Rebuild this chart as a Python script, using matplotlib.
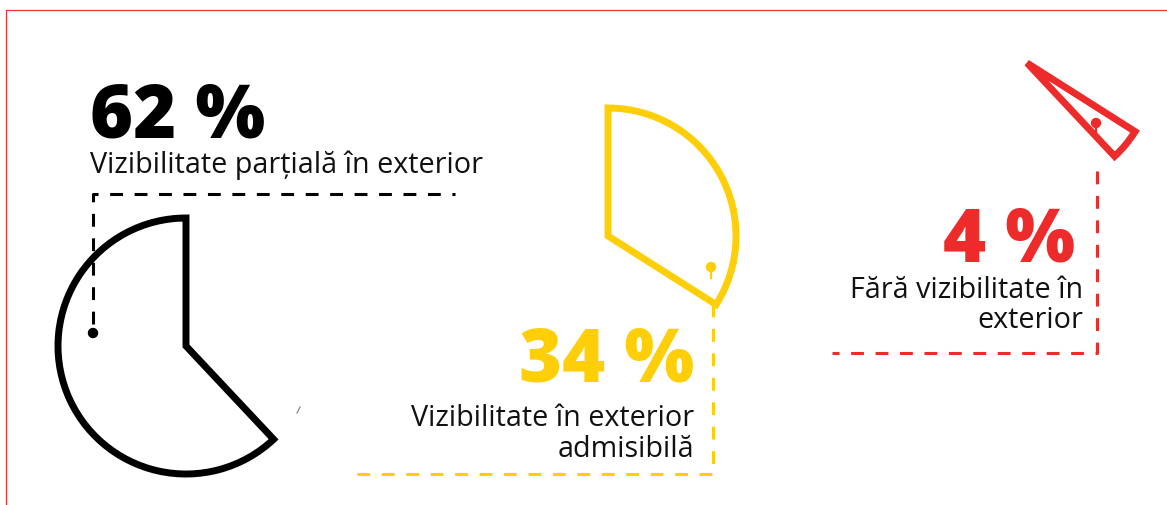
import numpy as np
import matplotlib
matplotlib.use("Agg")
import matplotlib.pyplot as plt
from matplotlib.patches import Wedge, Circle

# ---- data ----
categories = ["Vizibilitate parțială în exterior",
              "Fără vizibilitate în\nexterior",
              "Vizibilitate în exterior\nadmisibilă"]
values = [62, 4, 34]
value_labels = ["62 %", "4 %", "34 %"]
colors = ["#000000", "#EE2B2B", "#FECF08"]

W, H = 1167, 506
fig = plt.figure(figsize=(W / 100, H / 100), dpi=100)
ax = fig.add_axes([0, 0, 1, 1])
ax.set_xlim(0, W)
ax.set_ylim(H, 0)
ax.set_aspect("equal")
ax.axis("off")

FONT = ["Open Sans", "DejaVu Sans"]

# pie angles (counter-clockwise from 12 o'clock), drawn in screen coords
fr = np.array(values) / np.sum(values)
edges = 90 + 360 * np.concatenate([[0], np.cumsum(fr)])

centers = [(186, 347), (1027, 64), (608, 237)]
R = 128
for i in range(3):
    t1, t2 = edges[i], edges[i + 1]
    # y axis is inverted, so mirror the angles
    w = Wedge(centers[i], R, -t2, -t1, fill=False, ec=colors[i], lw=5.0,
              joinstyle="miter")
    ax.add_patch(w)

lw_d = 2.2
# black callout
ax.add_patch(Circle((93, 334), 4.5, color=colors[0], zorder=3))
ax.plot([93, 93, 455], [325, 195, 195], color=colors[0], lw=lw_d,
        dashes=(4.2, 3.8), solid_joinstyle="miter")
# red callout
ax.add_patch(Circle((1096, 124), 4.5, color=colors[1], zorder=3))
ax.plot([1096, 1096], [124, 135], color=colors[1], lw=1.6)
ax.plot([1097, 1097, 832], [172, 354, 354], color=colors[1], lw=lw_d,
        dashes=(4.2, 3.8), solid_joinstyle="miter")
# yellow callout
ax.add_patch(Circle((711, 268), 4.5, color=colors[2], zorder=3))
ax.plot([711, 711], [268, 279], color=colors[2], lw=1.6)
ax.plot([713, 713, 350], [305, 475, 475], color=colors[2], lw=lw_d,
        dashes=(4.2, 3.8), solid_joinstyle="miter")

# stray mark
ax.plot([297, 300], [414, 408], color="#777777", lw=0.8)

# frame lines
ax.plot([6, W], [11, 11], color="#EE3333", lw=0.9)
ax.plot([6, 6], [11, H], color="#EE3333", lw=0.9)

big = dict(fontsize=53, fontweight="heavy", family=FONT, va="baseline")
small = dict(fontsize=20.7, family=FONT, color="#111111", va="baseline")

# black
ax.text(90, 137, value_labels[0], color=colors[0], ha="left", **big)
ax.text(90, 173, categories[0], ha="left", **small)
# yellow
ax.text(694, 382, value_labels[2], color=colors[2], ha="right", **big)
l1, l2 = categories[2].split("\n")
ax.text(694, 426, l1, ha="right", **small)
ax.text(694, 457, l2, ha="right", **small)
# red
ax.text(1075, 262, value_labels[1], color=colors[1], ha="right", **big)
l1, l2 = categories[1].split("\n")
ax.text(1083, 298, l1, ha="right", **small)
ax.text(1083, 328, l2, ha="right", **small)

fig.savefig("out.png", dpi=100, facecolor="white")
